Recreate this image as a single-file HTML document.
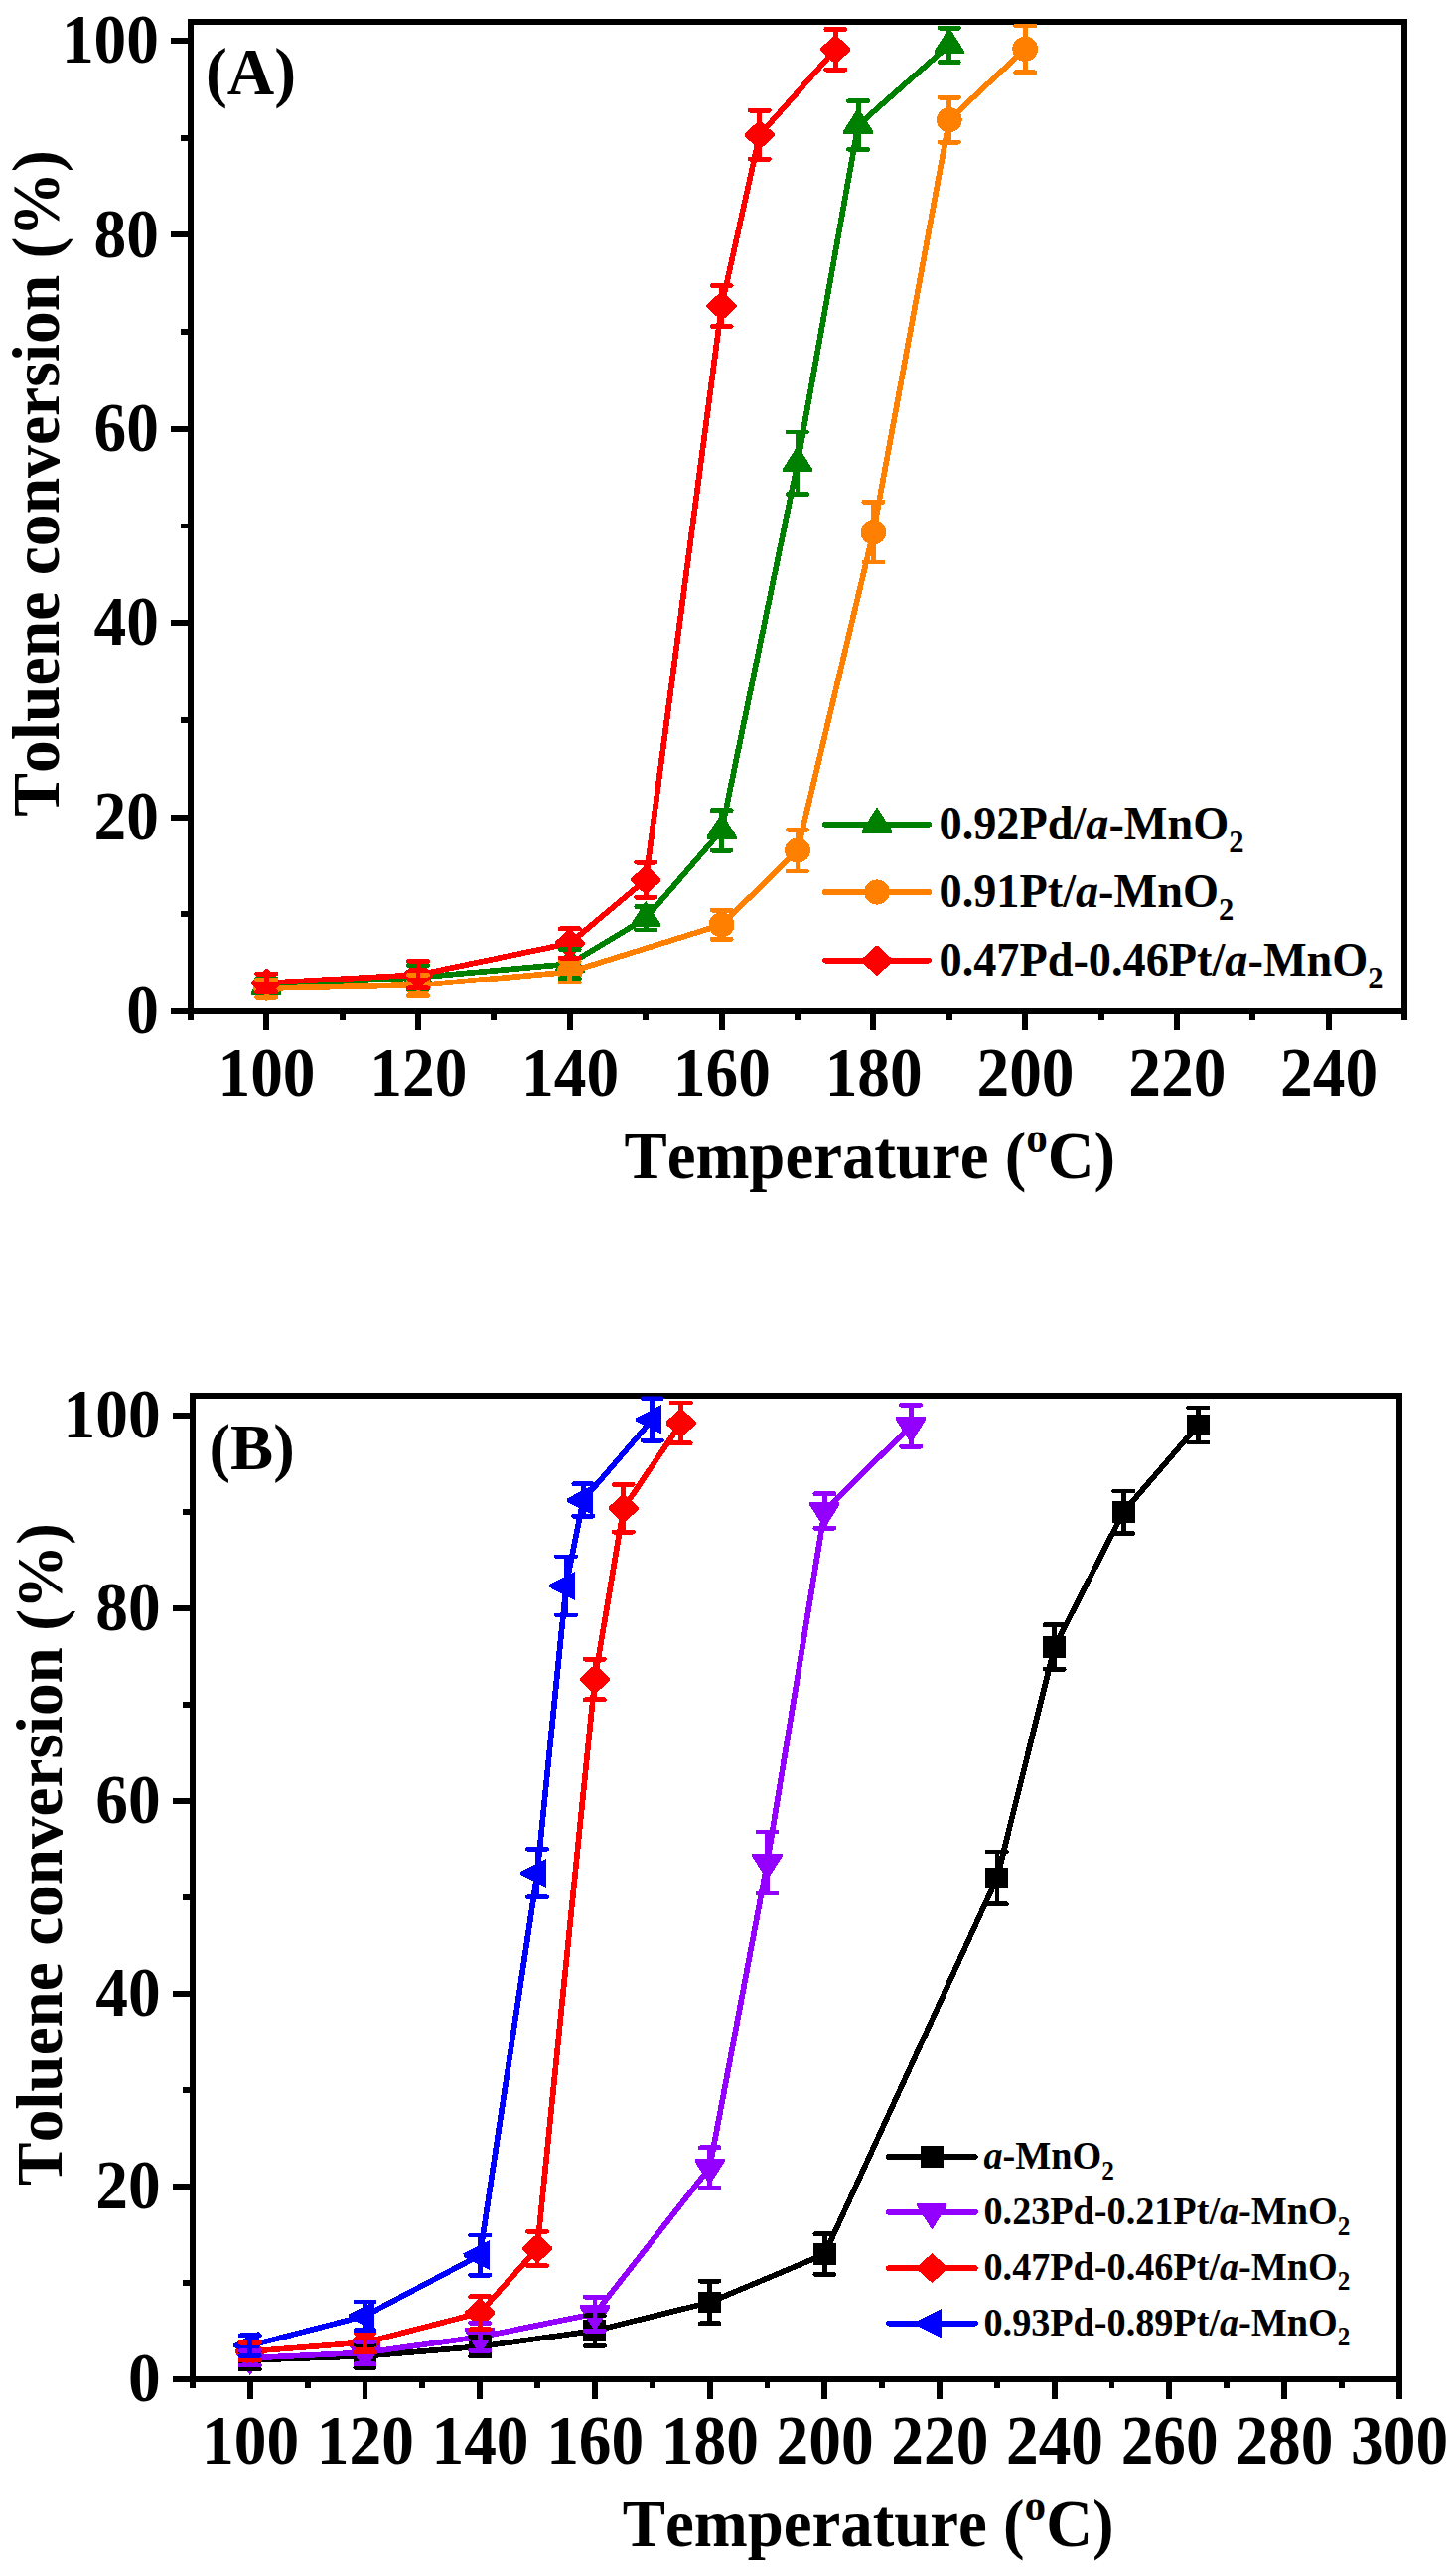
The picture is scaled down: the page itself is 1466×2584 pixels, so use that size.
<!DOCTYPE html>
<html><head><meta charset="utf-8"><title>Toluene conversion</title>
<style>html,body{margin:0;padding:0;background:#fff;width:1466px;height:2584px;overflow:hidden}svg{display:block}text{font-family:"Liberation Serif",serif;font-weight:bold;fill:#000;font-kerning:none;font-variant-ligatures:none}</style>
</head><body>
<svg width="1466" height="2584" viewBox="0 0 1466 2584" shape-rendering="crispEdges">
<rect width="1466" height="2584" fill="#fff"/>
<defs>
<clipPath id="ca"><rect x="191.8" y="21.9" width="1222.2" height="999.1"/></clipPath>
<clipPath id="cb"><rect x="193.9" y="1405.4" width="1214.8" height="992.7"/></clipPath>
</defs>
<!-- Panel A -->
<g stroke="#000" stroke-width="5.9" fill="none">
<rect x="191.8" y="21.9" width="1222.2" height="996.1"/>
<path d="M191.8 1018H171.6M191.8 920.3H182.2M191.8 822.6H171.6M191.8 724.9H182.2M191.8 627.2H171.6M191.8 529.5H182.2M191.8 431.8H171.6M191.8 334.1H182.2M191.8 236.4H171.6M191.8 138.7H182.2M191.8 41H171.6M268.2 1018V1037.4M421 1018V1037.4M573.8 1018V1037.4M726.6 1018V1037.4M879.4 1018V1037.4M1032.2 1018V1037.4M1185 1018V1037.4M1337.8 1018V1037.4M191.8 1018V1027.3M344.6 1018V1027.3M497.4 1018V1027.3M650.2 1018V1027.3M803 1018V1027.3M955.8 1018V1027.3M1108.6 1018V1027.3M1261.4 1018V1027.3M1414.2 1018V1027.3"/>
</g>
<g clip-path="url(#ca)">
<polyline points="268.2,992.6 421,983.8 573.8,970.1 650.2,924.2 726.6,835.9 803,466.3 864.1,126 955.8,45.4" fill="none" stroke="#008000" stroke-width="5.7" stroke-linejoin="round"/>
<polygon points="268.2,974.9 283.2,998.4 283.2,1001.5 253.1,1001.5 253.1,998.4" fill="#008000"/><polygon points="421,966.1 436.1,989.7 436.1,992.8 405.9,992.8 405.9,989.7" fill="#008000"/><polygon points="573.8,952.4 588.8,976 588.8,979.1 558.8,979.1 558.8,976" fill="#008000"/><polygon points="650.2,906.5 665.2,930.1 665.2,933.2 635.2,933.2 635.2,930.1" fill="#008000"/><polygon points="726.6,818.2 741.6,841.7 741.6,844.8 711.5,844.8 711.5,841.7" fill="#008000"/><polygon points="803,448.6 818,472.1 818,475.2 788,475.2 788,472.1" fill="#008000"/><polygon points="864.1,108.3 879.2,131.8 879.2,134.9 849.1,134.9 849.1,131.8" fill="#008000"/><polygon points="955.8,27.7 970.8,51.2 970.8,54.3 940.8,54.3 940.8,51.2" fill="#008000"/>
<polyline points="268.2,995 421,991.8 573.8,978.2 726.6,930.8 803,856.1 879.4,535.7 955.8,120.6 1032.2,49.3" fill="none" stroke="#ff8000" stroke-width="5.7" stroke-linejoin="round"/>
<ellipse cx="268.2" cy="995" rx="12.9" ry="12.6" fill="#ff8000"/><ellipse cx="421" cy="991.8" rx="12.9" ry="12.6" fill="#ff8000"/><ellipse cx="573.8" cy="978.2" rx="12.9" ry="12.6" fill="#ff8000"/><ellipse cx="726.6" cy="930.8" rx="12.9" ry="12.6" fill="#ff8000"/><ellipse cx="803" cy="856.1" rx="12.9" ry="12.6" fill="#ff8000"/><ellipse cx="879.4" cy="535.7" rx="12.9" ry="12.6" fill="#ff8000"/><ellipse cx="955.8" cy="120.6" rx="12.9" ry="12.6" fill="#ff8000"/><ellipse cx="1032.2" cy="49.3" rx="12.9" ry="12.6" fill="#ff8000"/>
<polyline points="268.2,989.4 421,981.1 573.8,949.4 650.2,885.7 726.6,308 764.8,135.8 841.2,49.8" fill="none" stroke="#ff0000" stroke-width="5.7" stroke-linejoin="round"/>
<polygon points="268.2,974.3 283.3,988.1 283.3,990.7 268.2,1004.5 253,990.7 253,988.1" fill="#ff0000"/><polygon points="421,966 436.1,979.8 436.1,982.4 421,996.2 405.9,982.4 405.9,979.8" fill="#ff0000"/><polygon points="573.8,934.3 588.9,948.1 588.9,950.7 573.8,964.5 558.6,950.7 558.6,948.1" fill="#ff0000"/><polygon points="650.2,870.6 665.4,884.4 665.4,887 650.2,900.8 635.1,887 635.1,884.4" fill="#ff0000"/><polygon points="726.6,292.9 741.7,306.7 741.7,309.3 726.6,323.1 711.4,309.3 711.4,306.7" fill="#ff0000"/><polygon points="764.8,120.7 779.9,134.5 779.9,137.1 764.8,150.9 749.6,137.1 749.6,134.5" fill="#ff0000"/><polygon points="841.2,34.7 856.4,48.5 856.4,51.1 841.2,64.9 826.1,51.1 826.1,48.5" fill="#ff0000"/>
<path d="M268.2 984.8V1000.4M421 971.6V996M573.8 955.5V984.8M650.2 912.5V935.9M726.6 815.7V856.1M803 435V497.6M864.1 101.6V150.4M955.8 28.3V62.5" fill="none" stroke="#008000" stroke-width="4.8"/><path d="M258.6 984.8H277.8M258.6 1000.4H277.8M411.4 971.6H430.6M411.4 996H430.6M564.2 955.5H583.4M564.2 984.8H583.4M640.6 912.5H659.8M640.6 935.9H659.8M717 815.7H736.2M717 856.1H736.2M793.4 435H812.6M793.4 497.6H812.6M854.5 101.6H873.7M854.5 150.4H873.7M946.2 28.3H965.4M946.2 62.5H965.4" fill="none" stroke="#008000" stroke-width="4.8" stroke-linecap="round"/>
<path d="M268.2 985.9V1004.2M421 981.1V1002.6M573.8 967.5V989M726.6 916.1V945.4M803 835.2V877M879.4 505.4V565.9M955.8 98.2V143.1M1032.2 25.9V72.8" fill="none" stroke="#ff8000" stroke-width="4.8"/><path d="M258.6 985.9H277.8M258.6 1004.2H277.8M411.4 981.1H430.6M411.4 1002.6H430.6M564.2 967.5H583.4M564.2 989H583.4M717 916.1H736.2M717 945.4H736.2M793.4 835.2H812.6M793.4 877H812.6M869.8 505.4H889M869.8 565.9H889M946.2 98.2H965.4M946.2 143.1H965.4M1022.6 25.9H1041.8M1022.6 72.8H1041.8" fill="none" stroke="#ff8000" stroke-width="4.8" stroke-linecap="round"/>
<path d="M268.2 980.2V998.6M421 967.4V994.7M573.8 934.8V964.1M650.2 868.1V903.3M726.6 287.5V328.5M764.8 111.3V160.2M841.2 29.5V70.1" fill="none" stroke="#ff0000" stroke-width="4.8"/><path d="M258.6 980.2H277.8M258.6 998.6H277.8M411.4 967.4H430.6M411.4 994.7H430.6M564.2 934.8H583.4M564.2 964.1H583.4M640.6 868.1H659.8M640.6 903.3H659.8M717 287.5H736.2M717 328.5H736.2M755.2 111.3H774.4M755.2 160.2H774.4M831.6 29.5H850.8M831.6 70.1H850.8" fill="none" stroke="#ff0000" stroke-width="4.8" stroke-linecap="round"/>
</g>
<text transform="translate(160 1040.2) scale(0.948 1)" font-size="69" text-anchor="end">0</text>
<text transform="translate(160 844.8) scale(0.948 1)" font-size="69" text-anchor="end">20</text>
<text transform="translate(160 649.4) scale(0.948 1)" font-size="69" text-anchor="end">40</text>
<text transform="translate(160 454) scale(0.948 1)" font-size="69" text-anchor="end">60</text>
<text transform="translate(160 258.6) scale(0.948 1)" font-size="69" text-anchor="end">80</text>
<text transform="translate(160 63.2) scale(0.948 1)" font-size="69" text-anchor="end">100</text>
<text transform="translate(268.5 1103.4) scale(0.948 1)" font-size="69" text-anchor="middle">100</text>
<text transform="translate(421.3 1103.4) scale(0.948 1)" font-size="69" text-anchor="middle">120</text>
<text transform="translate(574.1 1103.4) scale(0.948 1)" font-size="69" text-anchor="middle">140</text>
<text transform="translate(726.9 1103.4) scale(0.948 1)" font-size="69" text-anchor="middle">160</text>
<text transform="translate(879.7 1103.4) scale(0.948 1)" font-size="69" text-anchor="middle">180</text>
<text transform="translate(1032.5 1103.4) scale(0.948 1)" font-size="69" text-anchor="middle">200</text>
<text transform="translate(1185.3 1103.4) scale(0.948 1)" font-size="69" text-anchor="middle">220</text>
<text transform="translate(1338.1 1103.4) scale(0.948 1)" font-size="69" text-anchor="middle">240</text>
<text transform="translate(875.8 1186.3) scale(0.960 1)" font-size="67.5" text-anchor="middle">Temperature (<tspan font-size="45" dy="-26.2">o</tspan><tspan dy="26.2">C)</tspan></text>
<text transform="translate(58.8 486.4) rotate(-90) scale(0.975 1)" font-size="67.3" text-anchor="middle">Toluene conversion (%)</text>
<text transform="translate(207 95) scale(0.980 1)" font-size="67">(A)</text>
<line x1="830.9" y1="829.9" x2="935.1" y2="829.9" stroke="#008000" stroke-width="5.7" stroke-linecap="round"/>
<polygon points="883,812.2 898,835.8 898,838.9 868,838.9 868,835.8" fill="#008000"/>
<text transform="translate(945.5 845.3) scale(0.962 1)" font-size="48.1">0.92Pd/<tspan font-style="italic">a</tspan>-MnO<tspan font-size="31.8" dy="12.5">2</tspan></text>
<line x1="830.9" y1="898" x2="935.1" y2="898" stroke="#ff8000" stroke-width="5.7" stroke-linecap="round"/>
<ellipse cx="883" cy="898" rx="12.9" ry="12.6" fill="#ff8000"/>
<text transform="translate(945.5 913.1) scale(0.962 1)" font-size="48.1">0.91Pt/<tspan font-style="italic">a</tspan>-MnO<tspan font-size="31.8" dy="12.5">2</tspan></text>
<line x1="830.9" y1="966.7" x2="935.1" y2="966.7" stroke="#ff0000" stroke-width="5.7" stroke-linecap="round"/>
<polygon points="883,951.1 898.6,965.4 898.6,968 883,982.3 867.4,968 867.4,965.4" fill="#ff0000"/>
<text transform="translate(945.5 982) scale(0.962 1)" font-size="48.1">0.47Pd-0.46Pt/<tspan font-style="italic">a</tspan>-MnO<tspan font-size="31.8" dy="12.5">2</tspan></text>
<!-- Panel B -->
<g stroke="#000" stroke-width="5.9" fill="none">
<rect x="193.9" y="1405.4" width="1214.8" height="989.7"/>
<path d="M193.9 2395.1H173.8M193.9 2298H184.3M193.9 2201H173.8M193.9 2103.9H184.3M193.9 2006.9H173.8M193.9 1909.8H184.3M193.9 1812.8H173.8M193.9 1715.8H184.3M193.9 1618.7H173.8M193.9 1521.6H184.3M193.9 1424.6H173.8M251.8 2395.1V2414.5M367.5 2395.1V2414.5M483.2 2395.1V2414.5M598.9 2395.1V2414.5M714.6 2395.1V2414.5M830.3 2395.1V2414.5M946 2395.1V2414.5M1061.7 2395.1V2414.5M1177.4 2395.1V2414.5M1293.1 2395.1V2414.5M1408.8 2395.1V2414.5M194 2395.1V2404.4M309.7 2395.1V2404.4M425.4 2395.1V2404.4M541 2395.1V2404.4M656.8 2395.1V2404.4M772.5 2395.1V2404.4M888.2 2395.1V2404.4M1003.9 2395.1V2404.4M1119.5 2395.1V2404.4M1235.2 2395.1V2404.4M1351 2395.1V2404.4"/>
</g>
<g clip-path="url(#cb)">
<polyline points="251.8,2375.7 367.5,2371.8 483.2,2362.1 598.9,2346.1 714.6,2317.5 830.3,2269.1 1003.9,1890.4 1061.7,1658 1131.1,1522.2 1206.3,1434.5" fill="none" stroke="#000000" stroke-width="5.7" stroke-linejoin="round"/>
<rect x="240.3" y="2364.8" width="23" height="21.8" fill="#000000"/><rect x="356" y="2360.9" width="23" height="21.8" fill="#000000"/><rect x="471.7" y="2351.2" width="23" height="21.8" fill="#000000"/><rect x="587.4" y="2335.2" width="23" height="21.8" fill="#000000"/><rect x="703.1" y="2306.6" width="23" height="21.8" fill="#000000"/><rect x="818.8" y="2258.2" width="23" height="21.8" fill="#000000"/><rect x="992.4" y="1879.5" width="23" height="21.8" fill="#000000"/><rect x="1050.2" y="1647.1" width="23" height="21.8" fill="#000000"/><rect x="1119.6" y="1511.3" width="23" height="21.8" fill="#000000"/><rect x="1194.8" y="1423.6" width="23" height="21.8" fill="#000000"/>
<polyline points="251.8,2373.7 367.5,2368.3 483.2,2352.3 598.9,2329.1 714.6,2181.9 772.5,1874.9 830.3,1521 917.1,1435.3" fill="none" stroke="#9400ff" stroke-width="5.7" stroke-linejoin="round"/>
<polygon points="251.8,2391.4 266.9,2367.9 266.9,2364.8 236.8,2364.8 236.8,2367.9" fill="#9400ff"/><polygon points="367.5,2386 382.6,2362.5 382.6,2359.4 352.4,2359.4 352.4,2362.5" fill="#9400ff"/><polygon points="483.2,2370 498.3,2346.5 498.3,2343.4 468.2,2343.4 468.2,2346.5" fill="#9400ff"/><polygon points="598.9,2346.8 614,2323.3 614,2320.2 583.9,2320.2 583.9,2323.3" fill="#9400ff"/><polygon points="714.6,2199.6 729.6,2176 729.6,2172.9 699.6,2172.9 699.6,2176" fill="#9400ff"/><polygon points="772.5,1892.6 787.5,1869.1 787.5,1866 757.4,1866 757.4,1869.1" fill="#9400ff"/><polygon points="830.3,1538.7 845.3,1515.1 845.3,1512 815.2,1512 815.2,1515.1" fill="#9400ff"/><polygon points="917.1,1453 932.1,1429.4 932.1,1426.3 902,1426.3 902,1429.4" fill="#9400ff"/>
<polyline points="251.8,2367 367.5,2358 483.2,2328.1 541,2263.4 598.9,1690.5 627.8,1518.3 685.7,1432.4" fill="none" stroke="#ff0000" stroke-width="5.7" stroke-linejoin="round"/>
<polygon points="251.8,2351.9 266.9,2365.7 266.9,2368.3 251.8,2382.1 236.7,2368.3 236.7,2365.7" fill="#ff0000"/><polygon points="367.5,2342.9 382.6,2356.7 382.6,2359.3 367.5,2373.1 352.4,2359.3 352.4,2356.7" fill="#ff0000"/><polygon points="483.2,2313 498.4,2326.8 498.4,2329.4 483.2,2343.2 468.1,2329.4 468.1,2326.8" fill="#ff0000"/><polygon points="541,2248.3 556.2,2262.1 556.2,2264.7 541,2278.5 525.9,2264.7 525.9,2262.1" fill="#ff0000"/><polygon points="598.9,1675.4 614.1,1689.2 614.1,1691.8 598.9,1705.6 583.8,1691.8 583.8,1689.2" fill="#ff0000"/><polygon points="627.8,1503.2 643,1517 643,1519.6 627.8,1533.4 612.7,1519.6 612.7,1517" fill="#ff0000"/><polygon points="685.7,1417.3 700.8,1431.1 700.8,1433.7 685.7,1447.5 670.5,1433.7 670.5,1431.1" fill="#ff0000"/>
<polyline points="251.8,2361.1 367.5,2331.2 483.2,2270.1 541,1885.6 570,1596.4 587.3,1510 656.8,1428.9" fill="none" stroke="#0000ff" stroke-width="5.7" stroke-linejoin="round"/>
<polygon points="235.1,2359.6 261.2,2346.4 261.2,2375.8 235.1,2362.7" fill="#0000ff"/><polygon points="350.8,2329.7 376.9,2316.5 376.9,2345.9 350.8,2332.8" fill="#0000ff"/><polygon points="466.5,2268.5 492.6,2255.4 492.6,2284.8 466.5,2271.6" fill="#0000ff"/><polygon points="524.3,1884 550.4,1870.9 550.4,1900.3 524.3,1887.1" fill="#0000ff"/><polygon points="553.3,1594.8 579.4,1581.7 579.4,1611.1 553.3,1597.9" fill="#0000ff"/><polygon points="570.6,1508.5 596.7,1495.3 596.7,1524.7 570.6,1511.6" fill="#0000ff"/><polygon points="640,1427.3 666.1,1414.2 666.1,1443.6 640,1430.4" fill="#0000ff"/>
<path d="M251.8 2366.7V2384.7M367.5 2360.2V2383.5M483.2 2352.4V2371.8M598.9 2330.8V2361.4M714.6 2296.1V2338.8M830.3 2248.8V2289.4M1003.9 1864V1916.8M1061.7 1635.7V1680.3M1131.1 1500.9V1543.6M1206.3 1417V1452" fill="none" stroke="#000000" stroke-width="4.8"/><path d="M242.2 2366.7H261.4M242.2 2384.7H261.4M357.9 2360.2H377.1M357.9 2383.5H377.1M473.6 2352.4H492.8M473.6 2371.8H492.8M589.3 2330.8H608.5M589.3 2361.4H608.5M705 2296.1H724.2M705 2338.8H724.2M820.7 2248.8H839.9M820.7 2289.4H839.9M994.3 1864H1013.5M994.3 1916.8H1013.5M1052.1 1635.7H1071.3M1052.1 1680.3H1071.3M1121.5 1500.9H1140.7M1121.5 1543.6H1140.7M1196.7 1417H1215.9M1196.7 1452H1215.9" fill="none" stroke="#000000" stroke-width="4.8" stroke-linecap="round"/>
<path d="M251.8 2366.5V2381M367.5 2357.1V2379.6M483.2 2338.4V2366.2M598.9 2312.1V2346.1M714.6 2161.8V2202M772.5 1843.9V1906M830.3 1503.7V1538.2M917.1 1414.3V1456.2" fill="none" stroke="#9400ff" stroke-width="4.8"/><path d="M242.2 2366.5H261.4M242.2 2381H261.4M357.9 2357.1H377.1M357.9 2379.6H377.1M473.6 2338.4H492.8M473.6 2366.2H492.8M589.3 2312.1H608.5M589.3 2346.1H608.5M705 2161.8H724.2M705 2202H724.2M762.9 1843.9H782.1M762.9 1906H782.1M820.7 1503.7H839.9M820.7 1538.2H839.9M907.5 1414.3H926.7M907.5 1456.2H926.7" fill="none" stroke="#9400ff" stroke-width="4.8" stroke-linecap="round"/>
<path d="M251.8 2358.2V2375.7M367.5 2348.3V2367.7M483.2 2311.6V2344.6M541 2246.1V2280.7M598.9 1670.2V1710.8M627.8 1494.4V1542.1M685.7 1412V1452.7" fill="none" stroke="#ff0000" stroke-width="4.8"/><path d="M242.2 2358.2H261.4M242.2 2375.7H261.4M357.9 2348.3H377.1M357.9 2367.7H377.1M473.6 2311.6H492.8M473.6 2344.6H492.8M531.4 2246.1H550.6M531.4 2280.7H550.6M589.3 1670.2H608.5M589.3 1710.8H608.5M618.2 1494.4H637.4M618.2 1542.1H637.4M676.1 1412H695.3M676.1 1452.7H695.3" fill="none" stroke="#ff0000" stroke-width="4.8" stroke-linecap="round"/>
<path d="M251.8 2350.8V2371.4M367.5 2316.9V2345.6M483.2 2250V2290.2M541 1861.3V1909.8M570 1566.9V1625.9M587.3 1493.8V1526.2M656.8 1407.6V1450.1" fill="none" stroke="#0000ff" stroke-width="4.8"/><path d="M242.2 2350.8H261.4M242.2 2371.4H261.4M357.9 2316.9H377.1M357.9 2345.6H377.1M473.6 2250H492.8M473.6 2290.2H492.8M531.4 1861.3H550.6M531.4 1909.8H550.6M560.4 1566.9H579.6M560.4 1625.9H579.6M577.7 1493.8H596.9M577.7 1526.2H596.9M647.1 1407.6H666.4M647.1 1450.1H666.4" fill="none" stroke="#0000ff" stroke-width="4.8" stroke-linecap="round"/>
</g>
<text transform="translate(161.6 2417.3) scale(0.948 1)" font-size="69" text-anchor="end">0</text>
<text transform="translate(161.6 2223.2) scale(0.948 1)" font-size="69" text-anchor="end">20</text>
<text transform="translate(161.6 2029.1) scale(0.948 1)" font-size="69" text-anchor="end">40</text>
<text transform="translate(161.6 1835) scale(0.948 1)" font-size="69" text-anchor="end">60</text>
<text transform="translate(161.6 1640.9) scale(0.948 1)" font-size="69" text-anchor="end">80</text>
<text transform="translate(161.6 1446.8) scale(0.948 1)" font-size="69" text-anchor="end">100</text>
<text transform="translate(252.1 2479.7) scale(0.948 1)" font-size="69" text-anchor="middle">100</text>
<text transform="translate(367.8 2479.7) scale(0.948 1)" font-size="69" text-anchor="middle">120</text>
<text transform="translate(483.5 2479.7) scale(0.948 1)" font-size="69" text-anchor="middle">140</text>
<text transform="translate(599.2 2479.7) scale(0.948 1)" font-size="69" text-anchor="middle">160</text>
<text transform="translate(714.9 2479.7) scale(0.948 1)" font-size="69" text-anchor="middle">180</text>
<text transform="translate(830.6 2479.7) scale(0.948 1)" font-size="69" text-anchor="middle">200</text>
<text transform="translate(946.3 2479.7) scale(0.948 1)" font-size="69" text-anchor="middle">220</text>
<text transform="translate(1062 2479.7) scale(0.948 1)" font-size="69" text-anchor="middle">240</text>
<text transform="translate(1177.7 2479.7) scale(0.948 1)" font-size="69" text-anchor="middle">260</text>
<text transform="translate(1293.4 2479.7) scale(0.948 1)" font-size="69" text-anchor="middle">280</text>
<text transform="translate(1409.1 2479.7) scale(0.948 1)" font-size="69" text-anchor="middle">300</text>
<text transform="translate(874.2 2562.8) scale(0.960 1)" font-size="67.5" text-anchor="middle">Temperature (<tspan font-size="45" dy="-26.2">o</tspan><tspan dy="26.2">C)</tspan></text>
<text transform="translate(61.6 1866.5) rotate(-90) scale(0.996 1)" font-size="65.5" text-anchor="middle">Toluene conversion (%)</text>
<text transform="translate(210.5 1478.6) scale(1.000 1)" font-size="64.7">(B)</text>
<line x1="894.9" y1="2171" x2="981.9" y2="2171" stroke="#000000" stroke-width="5.7" stroke-linecap="round"/>
<rect x="926.9" y="2160.1" width="23" height="21.8" fill="#000000"/>
<text transform="translate(990.5 2183.2) scale(0.936 1)" font-size="40.8"><tspan font-style="italic">a</tspan>-MnO<tspan font-size="26.9" dy="10.6">2</tspan></text>
<line x1="894.9" y1="2226.8" x2="981.9" y2="2226.8" stroke="#9400ff" stroke-width="5.7" stroke-linecap="round"/>
<polygon points="938.4,2244.5 953.4,2221 953.4,2217.9 923.4,2217.9 923.4,2221" fill="#9400ff"/>
<text transform="translate(990.5 2239.2) scale(0.936 1)" font-size="40.8">0.23Pd-0.21Pt/<tspan font-style="italic">a</tspan>-MnO<tspan font-size="26.9" dy="10.6">2</tspan></text>
<line x1="894.9" y1="2283.1" x2="981.9" y2="2283.1" stroke="#ff0000" stroke-width="5.7" stroke-linecap="round"/>
<polygon points="938.4,2268 953.5,2281.8 953.5,2284.4 938.4,2298.2 923.2,2284.4 923.2,2281.8" fill="#ff0000"/>
<text transform="translate(990.5 2294.8) scale(0.936 1)" font-size="40.8">0.47Pd-0.46Pt/<tspan font-style="italic">a</tspan>-MnO<tspan font-size="26.9" dy="10.6">2</tspan></text>
<line x1="894.9" y1="2338.7" x2="981.9" y2="2338.7" stroke="#0000ff" stroke-width="5.7" stroke-linecap="round"/>
<polygon points="921.7,2337.1 947.8,2324 947.8,2353.4 921.7,2340.2" fill="#0000ff"/>
<text transform="translate(990.5 2350.8) scale(0.936 1)" font-size="40.8">0.93Pd-0.89Pt/<tspan font-style="italic">a</tspan>-MnO<tspan font-size="26.9" dy="10.6">2</tspan></text>
</svg>
</body></html>
